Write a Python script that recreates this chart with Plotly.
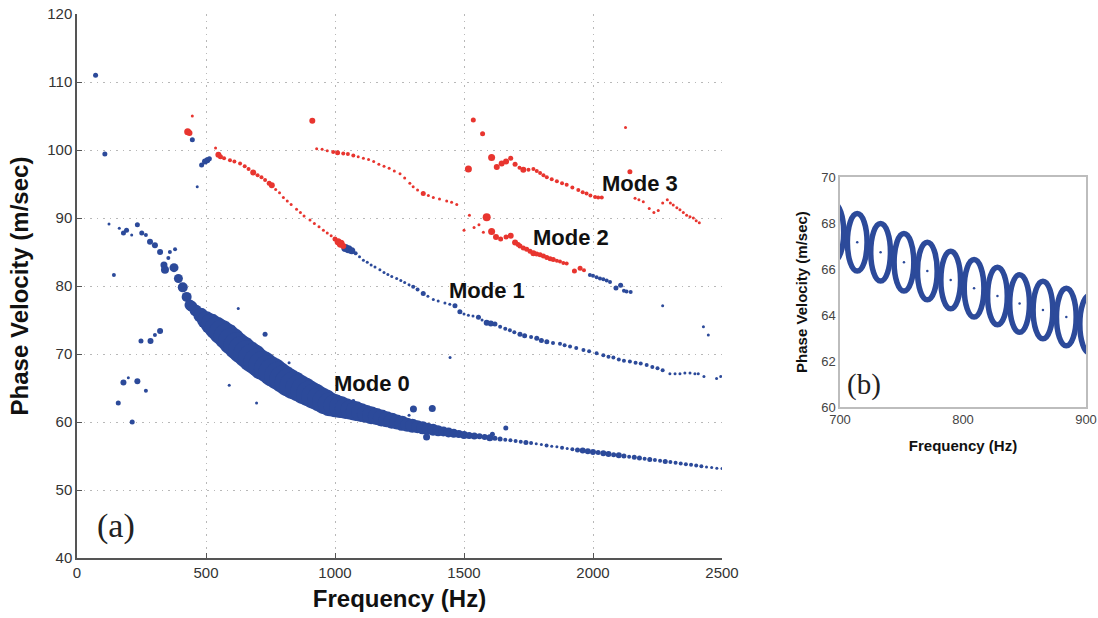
import plotly.graph_objects as go

# ---------------- data: panel (a) ----------------
# Mode 0 dense band (frequency Hz, phase velocity m/s, relative weight)
mode0_freq = [445, 460, 480, 500, 520, 540, 560, 580, 600, 620, 640, 660, 680, 700, 720, 740,
              760, 780, 800, 820, 840, 860, 880, 900, 920, 940, 960, 980, 1000, 1020, 1040,
              1060, 1080, 1100, 1120, 1140, 1160, 1180, 1200, 1220, 1240, 1260, 1280, 1300,
              1320, 1340, 1360, 1380, 1400, 1420, 1440, 1460, 1480, 1500]
mode0_vel = [77.0, 76.4, 75.7, 75.0, 74.4, 73.8, 73.2, 72.6, 71.9, 71.2, 70.6, 70.0, 69.4,
             68.8, 68.3, 67.8, 67.3, 66.8, 66.3, 65.8, 65.4, 65.0, 64.6, 64.2, 63.8, 63.4,
             63.0, 62.6, 62.4, 62.2, 62.0, 61.8, 61.6, 61.4, 61.2, 61.0, 60.8, 60.6, 60.4,
             60.2, 60.0, 59.8, 59.6, 59.45, 59.3, 59.15, 59.0, 58.85, 58.7, 58.6, 58.45,
             58.35, 58.25, 58.1]
mode0_weight = [11, 12, 15, 18, 21, 23, 25, 26, 27, 27, 28, 28, 29, 28, 29, 28, 29, 28, 28,
                28, 28, 27, 27, 26, 26, 25, 25, 24, 23, 22, 21, 20, 20, 19, 18, 18, 17, 17,
                16, 16, 15, 15, 14, 14, 13, 13, 12, 12, 11, 10, 10, 9, 8, 8]

# Mode 0 high-frequency tail
tail_freq = [1520, 1540, 1560, 1580, 1600, 1620, 1640, 1660, 1680, 1700, 1720, 1740, 1760,
             1780, 1800, 1820, 1840, 1860, 1880, 1900, 1920, 1940, 1960, 1980, 2000, 2020,
             2040, 2060, 2080, 2100, 2120, 2140, 2160, 2180, 2200, 2220, 2240, 2260, 2280,
             2300, 2320, 2340, 2360, 2380, 2400, 2420, 2440, 2460, 2480, 2500]
tail_vel = [58.0, 57.95, 57.9, 57.8, 57.7, 57.6, 57.5, 57.4, 57.3, 57.2, 57.1, 57.0, 56.9,
            56.8, 56.7, 56.55, 56.45, 56.35, 56.2, 56.1, 56.0, 55.9, 55.8, 55.7, 55.6, 55.5,
            55.4, 55.3, 55.2, 55.1, 55.0, 54.9, 54.8, 54.7, 54.6, 54.5, 54.4, 54.3, 54.2,
            54.1, 54.0, 53.9, 53.8, 53.7, 53.6, 53.5, 53.4, 53.3, 53.2, 53.15]
tail_weight = [7, 7, 6, 6, 7, 5, 5, 4, 4, 4, 4, 5, 4, 3, 3, 4, 3, 3, 4, 3, 4, 5, 6, 6, 6, 5,
               6, 6, 5, 6, 5, 4, 5, 5, 4, 5, 4, 4, 5, 4, 4, 4, 4, 4, 4, 4, 3, 3, 3, 3]

# Blue scattered picks (low-frequency mode 0, outliers, mode 1 and mode 2 blue branches)
blue_freq = [72, 108, 124, 143, 164, 180, 192, 212, 234, 251, 267, 283, 302, 322, 337, 341,
             354, 360, 380, 376, 393, 410, 425, 438,
             160, 180, 199, 214, 234, 248, 267, 285, 302, 322, 590, 606, 625, 696, 729, 822,
             929, 1071, 1287, 1304, 1377, 1355, 1446, 1610, 1662, 2270, 2428, 2447,
             447, 466, 483, 496, 505, 513,
             1040, 1052, 1065, 1080, 1095, 1110, 1125, 1140, 1155, 1174, 1190, 1205, 1220,
             1239, 1255, 1270, 1287, 1303, 1320, 1342, 1360, 1381, 1400, 1426, 1445, 1465,
             1484, 1500, 1517, 1535, 1556, 1570, 1588, 1604, 1620, 1640, 1660, 1678, 1695,
             1717, 1735, 1760, 1782, 1800, 1821, 1845, 1872, 1890, 1911, 1935, 1963, 1985,
             2014, 2040, 2060, 2079, 2100, 2120, 2143, 2165, 2185, 2208, 2230, 2250, 2270,
             2298, 2318, 2337, 2356, 2376, 2395, 2408, 2430, 2479, 2495,
             1988, 2000, 2014, 2027, 2040, 2053, 2066, 2089, 2107, 2120, 2130, 2146]
blue_vel = [111.0, 99.4, 89.1, 81.6, 88.5, 87.8, 88.2, 87.5, 89.0, 87.8, 87.5, 86.5, 86.0,
            85.0, 83.1, 82.4, 84.1, 85.0, 85.4, 82.7, 81.1, 79.8, 78.4, 77.2,
            62.8, 65.8, 66.5, 60.0, 66.0, 71.9, 64.6, 71.9, 72.8, 73.4, 65.4, 73.9, 76.7,
            62.8, 72.9, 68.7, 65.1, 63.1, 61.0, 61.9, 62.0, 57.8, 69.5, 58.2, 59.1, 77.1,
            74.0, 72.8,
            101.5, 94.6, 97.8, 98.3, 98.5, 98.7,
            85.6, 85.4, 85.2, 84.8, 84.3, 83.8, 83.5, 83.1, 82.8, 82.4, 82.0, 81.7, 81.4,
            81.1, 80.8, 80.5, 80.2, 79.9, 79.5, 78.9, 78.5, 78.0, 77.8, 77.5, 77.3, 77.1,
            76.2, 75.9, 75.7, 75.6, 75.4, 75.0, 74.6, 74.5, 74.4, 74.0, 73.7, 73.5, 73.2,
            72.9, 72.7, 72.5, 72.3, 72.0, 71.8, 71.6, 71.5, 71.3, 71.1, 70.9, 70.6, 70.4,
            70.1, 69.8, 69.6, 69.5, 69.2, 69.0, 68.9, 68.7, 68.6, 68.4, 68.1, 67.9, 67.6,
            67.1, 67.1, 67.1, 67.2, 67.2, 67.1, 67.1, 66.7, 66.4, 66.7,
            81.6, 81.5, 81.3, 81.1, 81.0, 80.8, 80.6, 79.7, 80.1, 79.3, 79.2, 79.1]
blue_weight = [5, 5, 3, 4, 3, 5, 5, 3, 5, 5, 4, 6, 6, 6, 7, 8, 4, 4, 4, 9, 9, 10, 10, 11,
               5, 6, 3, 5, 6, 5, 4, 6, 4, 6, 3, 4, 3, 3, 5, 3, 3, 4, 3, 7, 7, 7, 3, 5, 5, 3,
               3, 3,
               5, 3, 5, 6, 6, 5,
               8, 8, 7, 4, 3, 3, 3, 3, 3, 3, 3, 3, 3, 3, 3, 3, 3, 4, 4, 5, 3, 3, 3, 3, 3, 5,
               5, 3, 3, 3, 5, 3, 6, 6, 5, 4, 4, 4, 4, 5, 5, 4, 5, 5, 5, 4, 4, 4, 4, 4, 4, 4,
               4, 4, 4, 4, 4, 4, 4, 4, 4, 4, 4, 4, 4, 3, 3, 3, 3, 3, 3, 3, 3, 3, 3,
               4, 4, 4, 4, 4, 4, 4, 5, 5, 4, 4, 4]

# Red picks (mode 1 upper branch, mode 2, mode 3)
red_freq = [429, 436, 447, 537, 548, 556, 570, 593, 610, 632, 650, 665, 683, 700, 715, 729,
            745, 755, 770, 785, 800, 815, 830, 851, 866, 880, 903, 920, 938, 955, 970, 985,
            1000, 1012, 1022, 1032,
            912, 929, 950, 970, 993, 1010, 1032, 1050, 1071, 1090, 1110, 1130, 1150, 1170,
            1190, 1210, 1230, 1252, 1270, 1290, 1303, 1320, 1342, 1362, 1381, 1405, 1433,
            1452, 1472,
            1500, 1521, 1539, 1558, 1575, 1588, 1607, 1624, 1642, 1663, 1681, 1698, 1710,
            1717, 1730, 1743, 1756, 1769, 1782, 1795, 1808, 1821, 1834, 1846, 1860, 1872,
            1885, 1898, 1928, 1950, 1965,
            1517, 1536, 1572, 1607, 1627, 1646, 1663, 1681, 1698, 1715, 1730, 1750, 1769,
            1782, 1795, 1808, 1821, 1840, 1860, 1880, 1898, 1920, 1943, 1960, 1975, 1990,
            2008, 2020, 2034, 2126, 2143, 2163, 2178, 2195, 2218, 2236, 2253, 2270, 2288,
            2300, 2311, 2325, 2337, 2350, 2363, 2376, 2389, 2400, 2412]
red_vel = [102.7, 102.5, 105.0, 100.3, 99.3, 99.0, 98.8, 98.5, 98.3, 98.0, 97.6, 97.2, 96.7,
           96.3, 96.0, 95.6, 95.1, 94.8, 94.2, 93.7, 93.0, 92.5, 92.0, 91.3, 90.8, 90.3,
           89.7, 89.2, 88.7, 88.2, 87.8, 87.4, 86.9, 86.5, 86.2, 85.9,
           104.3, 100.2, 100.1, 99.9, 99.7, 99.6, 99.5, 99.4, 99.2, 99.0, 98.8, 98.6, 98.3,
           97.9, 97.6, 97.3, 96.9, 96.5, 95.9, 95.1, 94.6, 94.1, 93.6, 93.3, 93.0, 92.8,
           92.5, 92.3, 92.0,
           88.2, 90.4, 88.6, 89.0, 87.9, 90.1, 88.0, 87.2, 86.9, 87.2, 87.4, 86.4, 86.1,
           85.9, 85.6, 85.4, 85.1, 84.8, 84.7, 84.6, 84.4, 84.2, 84.0, 83.9, 83.7, 83.6,
           83.4, 83.3, 82.2, 82.6, 82.3,
           97.2, 104.4, 102.4, 98.9, 97.5, 98.0, 98.3, 98.8, 97.9, 97.4, 97.1, 97.1, 97.2,
           96.9, 96.6, 96.3, 96.0, 95.7, 95.4, 95.1, 94.9, 94.5, 94.1, 93.8, 93.6, 93.3,
           93.1, 93.0, 93.0, 103.3, 96.8, 92.9, 92.7, 92.4, 91.4, 90.8, 91.1, 92.2, 92.7,
           92.2, 91.9, 91.5, 91.2, 90.8, 90.4, 90.2, 90.0, 89.6, 89.3]
red_weight = [7, 6, 3, 3, 6, 5, 4, 4, 4, 4, 4, 4, 6, 4, 4, 4, 5, 6, 3, 3, 3, 3, 3, 3, 3, 3,
              3, 3, 3, 3, 3, 3, 5, 7, 8, 6,
              6, 3, 3, 3, 4, 5, 4, 4, 4, 3, 3, 3, 3, 3, 3, 3, 3, 3, 3, 3, 3, 3, 5, 3, 3, 3,
              3, 3, 3,
              3, 3, 3, 3, 3, 8, 7, 6, 5, 5, 6, 6, 5, 5, 5, 5, 5, 6, 5, 5, 5, 5, 5, 5, 4, 4,
              4, 4, 5, 5, 4,
              7, 5, 5, 7, 6, 6, 6, 5, 5, 4, 6, 4, 4, 4, 4, 4, 4, 4, 4, 4, 4, 4, 4, 4, 4, 4,
              4, 4, 4, 3, 5, 3, 3, 3, 3, 3, 3, 3, 3, 3, 3, 3, 3, 3, 3, 3, 3, 3, 3]

mode_labels = ["Mode 0", "Mode 1", "Mode 2", "Mode 3"]
mode_label_freq = [1143, 1591, 1913, 2182]
mode_label_vel = [65.7, 79.3, 87.2, 95.1]

# ---------------- data: panel (b) (zoom 700-900 Hz) ----------------
b_freq = [695, 714, 733, 752, 771, 790, 809, 828, 846, 865, 884, 903]
b_vel = [67.6, 67.16, 66.73, 66.29, 65.91, 65.52, 65.16, 64.83, 64.5, 64.22, 63.91, 63.6]

# ---------------- styling ----------------
W, H = 1098, 618
BLUE = "#2c4a9a"
RED = "#e8352f"
SANS = "Liberation Sans, Arial, sans-serif"
SERIF = "Liberation Serif, Times New Roman, serif"

def dom_x(a, b):
    return [a / W, b / W]

def dom_y(top, bottom):
    return [1 - bottom / H, 1 - top / H]

fig = go.Figure()

def dots(x, y, s, color, xa="x", ya="y"):
    return go.Scatter(x=x, y=y, mode="markers",
                      marker=dict(color=color, size=s, opacity=1, line=dict(width=0)),
                      xaxis=xa, yaxis=ya, showlegend=False, hoverinfo="skip")

# panel (a)
fig.add_trace(dots(mode0_freq, mode0_vel, mode0_weight, BLUE))
fig.add_trace(dots(tail_freq, tail_vel, tail_weight, BLUE))
fig.add_trace(dots(blue_freq, blue_vel, blue_weight, BLUE))
fig.add_trace(dots(red_freq, red_vel, red_weight, RED))

# panel (b): centre dots
fig.add_trace(dots(b_freq, b_vel, 2.5, BLUE, "x2", "y2"))

# panel (b): uncertainty ellipses around each pick
HALF_W_HZ = 8.0
HALF_H_MS = 1.25
shapes = []
for f, v in zip(b_freq, b_vel):
    shapes.append(dict(type="circle", xref="x2", yref="y2",
                       x0=f - HALF_W_HZ, x1=f + HALF_W_HZ,
                       y0=v - HALF_H_MS, y1=v + HALF_H_MS,
                       line=dict(color=BLUE, width=5.5), fillcolor="rgba(0,0,0,0)",
                       layer="above"))

annotations = []
for t, f, v in zip(mode_labels, mode_label_freq, mode_label_vel):
    annotations.append(dict(text="<b>%s</b>" % t, x=f, y=v, xref="x", yref="y",
                            showarrow=False, font=dict(family=SANS, size=22, color="#111")))
annotations.append(dict(text="(a)", x=151, y=44.7, xref="x", yref="y", showarrow=False,
                        font=dict(family=SERIF, size=34, color="#222")))
annotations.append(dict(text="(b)", x=719.5, y=60.96, xref="x2", yref="y2", showarrow=False,
                        font=dict(family=SERIF, size=29, color="#222")))

axis_a = dict(showgrid=True, gridcolor="#b8b8b8", griddash="1.5px,5px", gridwidth=1,
              showline=True, linecolor="#555", linewidth=1.5, mirror=False,
              ticks="inside", ticklen=5, tickcolor="#555", zeroline=False, automargin=False,
              tickfont=dict(family=SANS, size=15, color="#333"))
axis_b = dict(showgrid=False, showline=True, linecolor="#bdbdbd", linewidth=1.5, mirror=True,
              ticks="", zeroline=False, automargin=False,
              tickfont=dict(family=SANS, size=13, color="#444"))

fig.update_layout(
    template="none",
    width=W, height=H,
    margin=dict(l=0, r=0, t=0, b=0, autoexpand=False),
    paper_bgcolor="white", plot_bgcolor="white",
    showlegend=False,
    xaxis=dict(axis_a, domain=dom_x(77, 722), range=[0, 2500], tickvals=[0, 500, 1000, 1500, 2000, 2500],
               anchor="y",
               title=dict(text="<b>Frequency (Hz)</b>", standoff=10,
                          font=dict(family=SANS, size=24, color="#111"))),
    yaxis=dict(axis_a, domain=dom_y(14, 558), range=[40, 120], tickvals=[40, 50, 60, 70, 80, 90, 100, 110, 120],
               anchor="x",
               title=dict(text="<b>Phase Velocity (m/sec)</b>", standoff=12,
                          font=dict(family=SANS, size=24, color="#111"))),
    xaxis2=dict(axis_b, domain=dom_x(840, 1086), range=[700, 900], tickvals=[700, 800, 900],
                anchor="y2",
                title=dict(text="<b>Frequency (Hz)</b>", standoff=14,
                           font=dict(family=SANS, size=15, color="#111"))),
    yaxis2=dict(axis_b, domain=dom_y(177, 407), range=[60, 70], tickvals=[60, 62, 64, 66, 68, 70],
                anchor="x2",
                title=dict(text="<b>Phase Velocity (m/sec)</b>", standoff=10,
                           font=dict(family=SANS, size=15, color="#111"))),
    shapes=shapes,
    annotations=annotations,
    hovermode=False,
)

fig.write_html("out.html", config={"displayModeBar": False})
